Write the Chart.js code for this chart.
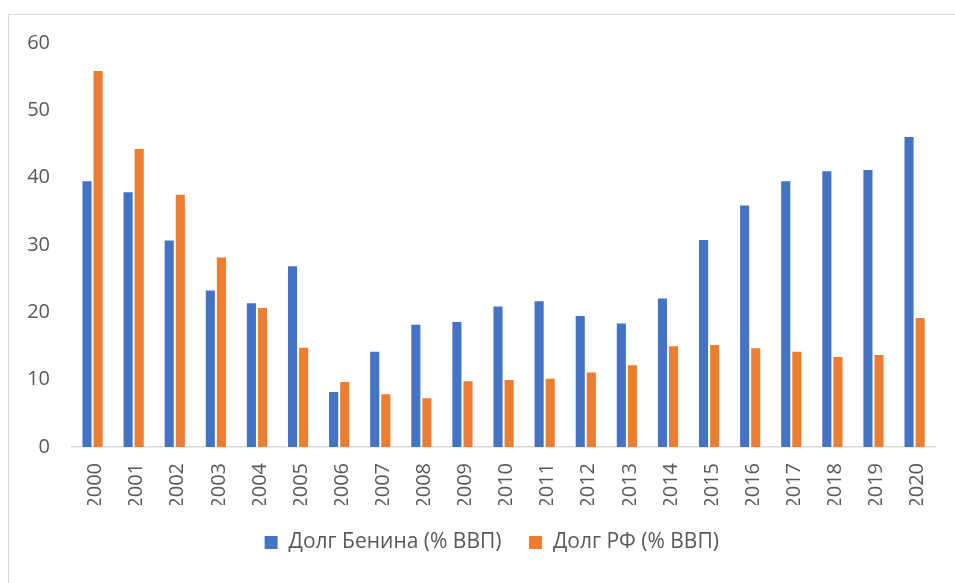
<!DOCTYPE html>
<html>
<head>
<meta charset="utf-8">
<script src="https://cdn.jsdelivr.net/npm/chart.js@4.4.0/dist/chart.umd.min.js"></script>
<style>
  html,body{margin:0;padding:0;background:#fff;}
  #wrap{position:relative;width:955px;height:583px;overflow:hidden;}
  #frame{position:absolute;left:8px;top:14px;width:960px;height:580px;border:1px solid #d9d9d9;box-sizing:border-box;}
  canvas{position:absolute;left:0;top:0;}
</style>
</head>
<body>
<div id="wrap">
  <div id="frame"></div>
  <canvas id="chart" width="955" height="583"></canvas>
</div>
<script>
// data
const years = ['2000','2001','2002','2003','2004','2005','2006','2007','2008','2009','2010',
               '2011','2012','2013','2014','2015','2016','2017','2018','2019','2020'];
const beninDebt = [39.6,38.0,30.8,23.4,21.5,27.0,8.3,14.3,18.3,18.7,21.0,
                   21.8,19.6,18.5,22.2,30.9,36.0,39.6,41.1,41.3,46.2];
const russiaDebt = [56.0,44.4,37.6,28.3,20.8,14.9,9.8,8.0,7.4,9.9,10.1,
                    10.3,11.2,12.3,15.1,15.3,14.8,14.3,13.5,13.8,19.3];
const yTicks = [0,10,20,30,40,50,60];

const colors = { blue:'#4472C4', orange:'#ED7D31', text:'#595959', axis:'#d9d9d9' };
const font = '"Open Sans", "Noto Sans", sans-serif';

// fixed legend height and a small nudge right, so the legend sits where Excel put it
const legendPlace = {
  id:'legendPlace',
  beforeInit(chart){
    const fit = chart.legend.fit;
    chart.legend.fit = function(){ fit.call(this); this.height = 78; };
  },
  afterLayout(chart){
    chart.legend.left += 10;
    chart.legend.right += 10;
  }
};

const ctx = document.getElementById('chart').getContext('2d');
new Chart(ctx, {
  type:'bar',
  data:{
    labels:years,
    datasets:[
      {label:'Долг Бенина (% ВВП)', data:beninDebt, backgroundColor:colors.blue, borderColor:'#fff', borderWidth:1},
      {label:'Долг РФ (% ВВП)', data:russiaDebt, backgroundColor:colors.orange, borderColor:'#fff', borderWidth:1}
    ]
  },
  plugins:[legendPlace],
  options:{
    responsive:false,
    animation:false,
    datasets:{bar:{categoryPercentage:0.54, barPercentage:1}},
    layout:{padding:{left:25, top:43, right:17, bottom:0}},
    plugins:{
      tooltip:{enabled:false},
      legend:{
        position:'bottom',
        labels:{color:colors.text, font:{family:font, size:21}, boxWidth:14, boxHeight:14, padding:27}
      }
    },
    scales:{
      x:{
        afterFit:s=>{ s.height = 58; },
        grid:{display:false, drawTicks:false},
        border:{color:colors.axis, width:1.5},
        ticks:{color:colors.text, font:{family:font, size:20}, maxRotation:90, minRotation:90, padding:16, labelOffset:3}
      },
      y:{
        min:0, max:60,
        afterFit:s=>{ s.width = 47; },
        afterBuildTicks:scale=>{ scale.ticks = yTicks.map(v=>({value:v})); },
        grid:{display:false, drawTicks:false},
        border:{display:false},
        ticks:{color:colors.text, font:{family:font, size:20}, padding:22}
      }
    }
  }
});
</script>
</body>
</html>
